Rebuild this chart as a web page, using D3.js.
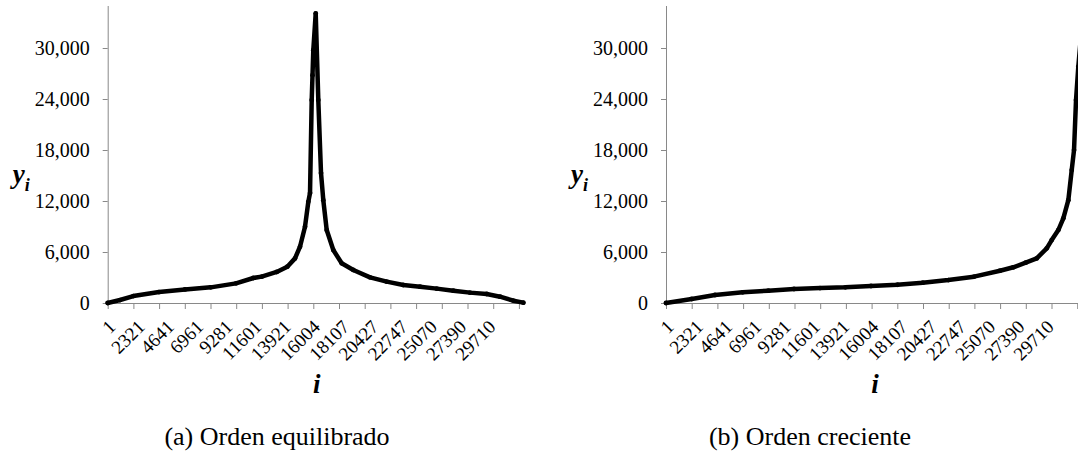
<!DOCTYPE html>
<html lang="es">
<head>
<meta charset="UTF-8">
<title>Orden equilibrado / creciente</title>
<script src="https://cdn.jsdelivr.net/npm/d3@7"></script>
<style>
  body { margin: 0; background: #fff; }
</style>
</head>
<body>
<svg id="chart" width="1078" height="454"></svg>
<script>
// y axis ticks and x category labels (same for both panels)
const yTicks = [0, 6000, 12000, 18000, 24000, 30000]
const xLabels = ["1", "2321", "4641", "6961", "9281", "11601", "13921", "16004",
                 "18107", "20427", "22747", "25070", "27390", "29710"]
const nPoints = 33100    // number of categories on the axis
const labelEvery = 2320
const tickEvery = 2040

// (a) balanced order: position i, value y_i
const balIdx = [0, 976, 2032, 4072, 6136, 8176, 10184, 11560, 12224, 13415, 14257, 14868,
                15265, 15662, 15924, 16059, 16193, 16257, 16320, 16511, 16717, 16932,
                17114, 17384, 17908, 18575, 19496, 20822, 22147, 23465, 24790, 26116,
                27434, 28760, 30085, 31141, 32197, 32991]
const balVal = [0, 350, 820, 1290, 1600, 1840, 2310, 2940, 3100, 3650, 4270, 5250,
                6620, 8970, 11900, 12940, 23870, 26800, 29750, 34070, 23870, 15290,
                12100, 8580, 6230, 4670, 3880, 3020, 2510, 2120, 1920, 1690,
                1450, 1220, 1060, 740, 270, 40]

// (b) increasing order
const incIdx = [0, 2040, 3890, 6088, 8121, 10161, 12225, 14233, 16273, 18361, 20377,
                22409, 24449, 26513, 27569, 28553, 29426, 30220, 30617, 31141, 31538,
                31935, 32205, 32388, 32546, 32728, 33100]
const incVal = [0, 470, 940, 1260, 1450, 1650, 1760, 1840, 2000, 2150, 2390,
                2700, 3100, 3800, 4200, 4740, 5250, 6430, 7400, 8580, 9960,
                12100, 15640, 17990, 23870, 27800, 34070]

const serif = "Liberation Serif, DejaVu Serif, serif"
const svg = d3.select("#chart").style("font-family", serif)
svg.append("rect").attr("width", 1078).attr("height", 454).attr("fill", "#fff")

const axisColor = "#898989"

function panel(left, idx, vals, caption, capX) {
    const x = d3.scaleLinear().domain([0, nPoints]).range([left, left + 417])
    const y = d3.scaleLinear().domain([0, 35000]).range([303, 5.5])
    const g = svg.append("g")

    // y axis
    const ya = g.append("g")
        .attr("transform", `translate(${left},0)`)
        .call(d3.axisLeft(y).tickValues(yTicks).tickSize(5).tickSizeOuter(0)
              .tickPadding(13).tickFormat(d3.format(",")))
    ya.attr("font-family", null).attr("font-size", null)
    ya.selectAll("text").attr("fill", "#000").style("font-family", serif).style("font-size", "20px")
    ya.select(".domain").attr("stroke", axisColor)
    ya.selectAll(".tick line").attr("stroke", axisColor)

    // x axis
    const xa = g.append("g")
        .attr("transform", "translate(0,303)")
        .call(d3.axisBottom(x).tickValues(d3.range(0, nPoints, tickEvery))
              .tickSize(6).tickSizeOuter(0).tickFormat(""))
    xa.select(".domain").attr("stroke", axisColor)
    xa.selectAll(".tick line").attr("stroke", axisColor)

    g.selectAll(".xlab")
        .data(xLabels)
        .enter()
        .append("text")
        .attr("class", "xlab")
        .attr("text-anchor", "end")
        .style("font-family", serif)
        .style("font-size", "19px")
        .attr("transform", (d, k) => `translate(${x(k * labelEvery) + 9},${303 + 25}) rotate(-45)`)
        .text(d => d)

    // data: dense dots drawn as a thick band
    const pts = idx.map((d, k) => [d, vals[k]])
    g.append("path")
        .datum(pts)
        .attr("fill", "none")
        .attr("stroke", "#000")
        .attr("stroke-width", 4.5)
        .attr("stroke-linejoin", "round")
        .attr("stroke-linecap", "round")
        .attr("d", d3.line().x(d => x(d[0])).y(d => y(d[1])))
    g.selectAll(".pt")
        .data(pts)
        .enter()
        .append("circle")
        .attr("class", "pt")
        .attr("cx", d => x(d[0]))
        .attr("cy", d => y(d[1]))
        .attr("r", 2.4)
        .attr("fill", "#000")

    // axis titles
    const yl = g.append("text")
        .attr("x", left - 95)
        .attr("y", 183)
        .style("font-family", serif)
        .style("font-weight", "bold")
        .style("font-style", "italic")
        .style("font-size", "27px")
    yl.append("tspan").text("y")
    yl.append("tspan").attr("dy", 8).style("font-size", "18px").text("i")

    g.append("text")
        .attr("x", left + 209)
        .attr("y", 393)
        .attr("text-anchor", "middle")
        .style("font-family", serif)
        .style("font-weight", "bold")
        .style("font-style", "italic")
        .style("font-size", "27px")
        .text("i")

    g.append("text")
        .attr("x", capX)
        .attr("y", 445)
        .attr("text-anchor", "middle")
        .style("font-family", serif)
        .style("font-size", "26px")
        .text(caption)
}

panel(107.7, balIdx, balVal, "(a) Orden equilibrado", 277)
panel(666, incIdx, incVal, "(b) Orden creciente", 810)
</script>
</body>
</html>
